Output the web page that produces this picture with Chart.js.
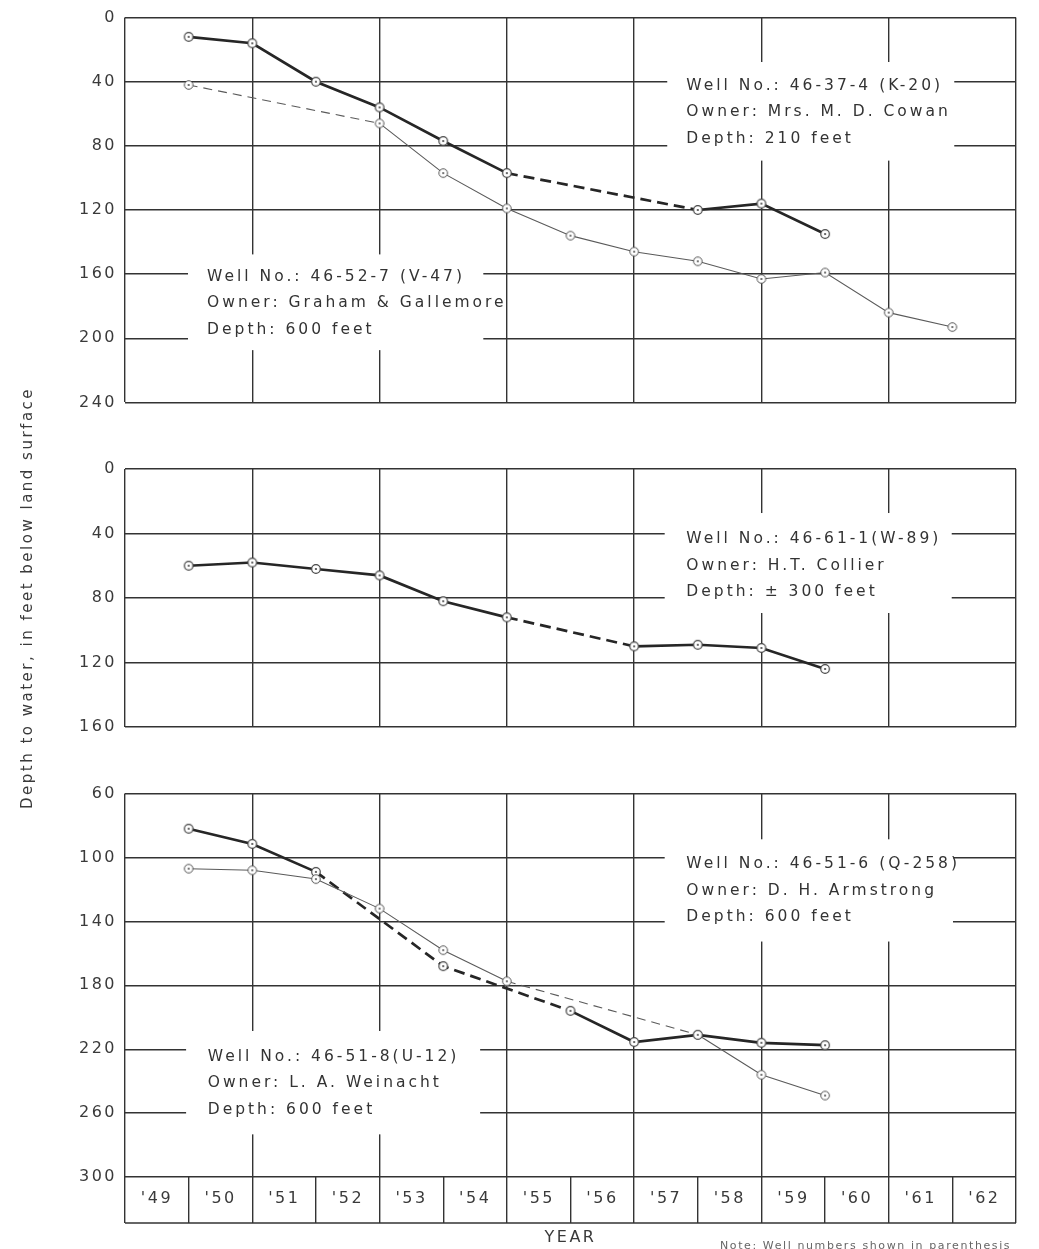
<!DOCTYPE html>
<html><head><meta charset="utf-8">
<script src="https://cdn.jsdelivr.net/npm/chart.js@4.4.1/dist/chart.umd.min.js"></script>
<style>
html,body{margin:0;padding:0;background:#fff;width:1039px;height:1249px;overflow:hidden;}
.panel{position:absolute;left:0;width:1039px;}
canvas{display:block;}
#note{position:absolute;left:720px;top:1239px;font:11px "DejaVu Sans";letter-spacing:1.6px;color:#666;white-space:nowrap;}
</style></head><body>
<div class="panel" style="top:0;height:420px"><canvas id="c1" width="1039" height="420"></canvas></div>
<div class="panel" style="top:360px;height:480px"><canvas id="c2" width="1039" height="480"></canvas></div>
<div class="panel" style="top:776px;height:473px"><canvas id="c3" width="1039" height="473"></canvas></div>
<div id="note">Note: Well numbers shown in parenthesis</div>
<script>
// ---------- data ----------
const yearTicks  = [1949,1950,1951,1952,1953,1954,1955,1956,1957,1958,1959,1960,1961,1962,1963];
const yearLabels = ["'49","'50","'51","'52","'53","'54","'55","'56","'57","'58","'59","'60","'61","'62",""];
const years      = [1950,1951,1952,1953,1954,1955,1956,1957,1958,1959,1960,1961,1962];

// panel 1
const wellK20 = [12, 16, 40, 56, 77, 97, null, null, 120, 116, 135, null, null];
const wellV47 = [42, null, null, 66, 97, 119, 136, 146, 152, 163, 159, 184, 193];
// panel 2
const wellW89 = [60, 58, 62, 66, 82, 92, null, 110, 109, 111, 124, null, null];
// panel 3
const wellQ258 = [82, 91.5, 109, null, 168, null, 196, 215.5, 211, 216, 217.5, null, null];
const wellU12  = [107, 108, 113.5, 132, 158, 177.5, null, null, 211, 236, 249, null, null];

const yTicks1 = [0, 40, 80, 120, 160, 200, 240];
const yTicks2 = [0, 40, 80, 120, 160];
const yTicks3 = [60, 100, 140, 180, 220, 260, 300];

const textK20  = ['Well No.: 46-37-4 (K-20)', 'Owner: Mrs. M. D. Cowan', 'Depth: 210 feet'];
const textV47  = ['Well No.: 46-52-7 (V-47)', 'Owner: Graham & Gallemore', 'Depth: 600 feet'];
const textW89  = ['Well No.: 46-61-1(W-89)', 'Owner: H.T. Collier', 'Depth: \u00B1 300 feet'];
const textQ258 = ['Well No.: 46-51-6 (Q-258)', 'Owner: D. H. Armstrong', 'Depth: 600 feet'];
const textU12  = ['Well No.: 46-51-8(U-12)', 'Owner: L. A. Weinacht', 'Depth: 600 feet'];
const yTitle = 'Depth to water, in feet below land surface';

// ---------- styles ----------
const FONT = '"DejaVu Sans", sans-serif';
const GRID = '#333';
const INK = '#3a3a3a';

function markerImg(stroke, lw) {
  const c = document.createElement('canvas');
  c.width = c.height = 12;
  const g = c.getContext('2d');
  g.beginPath(); g.arc(6, 6, 4.3, 0, Math.PI * 2);
  g.fillStyle = '#fff'; g.fill();
  g.lineWidth = lw; g.strokeStyle = stroke; g.stroke();
  g.beginPath(); g.arc(6, 6, 1.1, 0, Math.PI * 2);
  g.fillStyle = stroke; g.fill();
  return c;
}
const markThick = markerImg('#444', 1.2);
const markThin = markerImg('#555', 1.0);

function pts(vals) {
  return years.map((x, i) => ({x: x, y: vals[i]})).filter(p => p.y !== null);
}
function series(label, vals, thick) {
  const dash = thick ? [11, 6] : [9, 6];
  return {
    label: label,
    data: pts(vals),
    borderColor: thick ? '#262626' : '#5a5a5a',
    borderWidth: thick ? 2.7 : 1.1,
    pointStyle: thick ? markThick : markThin,
    pointRadius: 5,
    tension: 0,
    segment: { borderDash: ctx => (ctx.p1.parsed.x - ctx.p0.parsed.x > 1.5 ? dash : undefined) }
  };
}

// annotation boxes (positions in data units)
const notes = {
  c1: [
    {x0: 1957.52, x1: 1962.03, y0: 27.7, y1: 89.2, tx: 1957.82, ty: 42.5, lines: textK20},
    {x0: 1949.99, x1: 1954.63, y0: 147.7, y1: 207.4, tx: 1950.29, ty: 161.5, lines: textV47}
  ],
  c2: [
    {x0: 1957.48, x1: 1961.99, y0: 27.3, y1: 89.3, tx: 1957.82, ty: 43.4, lines: textW89}
  ],
  c3: [
    {x0: 1957.48, x1: 1962.01, y0: 88.6, y1: 152.6, tx: 1957.82, ty: 104.1, lines: textQ258},
    {x0: 1949.96, x1: 1954.58, y0: 208.6, y1: 273.3, tx: 1950.30, ty: 224.8, lines: textU12}
  ]
};

const notesPlugin = {
  id: 'wellNotes',
  beforeDraw(chart) { chart.ctx.letterSpacing = '2.5px'; },
  beforeDatasetsDraw(chart) {
    const {ctx, scales: {x, y}} = chart;
    (notes[chart.canvas.id] || []).forEach(b => {
      const x0 = x.getPixelForValue(b.x0), x1 = x.getPixelForValue(b.x1);
      const y0 = y.getPixelForValue(b.y0), y1 = y.getPixelForValue(b.y1);
      ctx.save();
      ctx.fillStyle = '#fff';
      ctx.fillRect(Math.min(x0, x1), Math.min(y0, y1), Math.abs(x1 - x0), Math.abs(y1 - y0));
      ctx.font = '15.5px ' + FONT;
      ctx.letterSpacing = '3px';
      ctx.fillStyle = '#333';
      ctx.textBaseline = 'middle';
      ctx.textAlign = 'left';
      const tx = x.getPixelForValue(b.tx), ty = y.getPixelForValue(b.ty);
      b.lines.forEach((t, i) => ctx.fillText(t, tx, ty + i * 26.5));
      ctx.restore();
    });
  },
  afterDraw(chart) {
    if (chart.canvas.id !== 'c3') return;
    const {ctx, chartArea: a} = chart;
    ctx.save();
    ctx.strokeStyle = GRID; ctx.lineWidth = 1.4;
    ctx.beginPath();
    ctx.moveTo(a.left, a.bottom + 46); ctx.lineTo(a.right, a.bottom + 46);
    ctx.stroke();
    ctx.restore();
  }
};

function makeChart(id, datasets, yTicks, withYear, withYTitle, padTop, padBottom) {
  const xScale = {
    type: 'linear', min: 1949, max: 1963,
    afterBuildTicks: s => { s.ticks = yearTicks.map(v => ({value: v})); },
    grid: {
      color: c => (c.tick && (c.tick.value - 1949) % 2 === 0 ? GRID : 'rgba(0,0,0,0)'),
      tickColor: GRID,
      lineWidth: 1.4,
      drawTicks: withYear,
      tickLength: 46
    },
    border: {display: false},
    ticks: {
      display: withYear,
      autoSkip: false, maxRotation: 0, minRotation: 0,
      labelOffset: 32,
      padding: -34,
      color: INK,
      font: {family: FONT, size: 16},
      callback: (v) => yearLabels[yearTicks.indexOf(v)] ?? ''
    },
    title: {
      display: withYear, text: 'YEAR', color: INK,
      font: {family: FONT, size: 16},
      padding: {top: 0, bottom: 2}
    },
    afterFit: s => { s.height = withYear ? 72 : 0; }
  };
  const yScale = {
    type: 'linear', reverse: true,
    min: yTicks[0], max: yTicks[yTicks.length - 1],
    afterBuildTicks: s => { s.ticks = yTicks.map(v => ({value: v})); },
    grid: {color: GRID, lineWidth: 1.4, drawTicks: false},
    border: {display: false},
    ticks: {padding: 8, color: INK, font: {family: FONT, size: 16}},
    title: {
      display: withYTitle, text: yTitle, color: INK,
      font: {family: FONT, size: 15},
      padding: {top: 19, bottom: 0}
    },
    afterFit: s => { s.width = 125; }
  };
  return new Chart(document.getElementById(id), {
    type: 'line',
    data: {datasets: datasets},
    options: {
      responsive: false,
      animation: false,
      devicePixelRatio: 1,
      layout: {padding: {left: 0, right: 23, top: padTop, bottom: padBottom}},
      plugins: {legend: {display: false}, tooltip: {enabled: false}},
      scales: {x: xScale, y: yScale}
    },
    plugins: [notesPlugin]
  });
}

makeChart('c1', [series('46-52-7 (V-47)', wellV47, false), series('46-37-4 (K-20)', wellK20, true)], yTicks1, false, false, 15, 15);
makeChart('c2', [series('46-61-1 (W-89)', wellW89, true)], yTicks2, false, true, 109, 113);
makeChart('c3', [series('46-51-8 (U-12)', wellU12, false), series('46-51-6 (Q-258)', wellQ258, true)], yTicks3, true, false, 15, 0);
</script>
</body></html>
